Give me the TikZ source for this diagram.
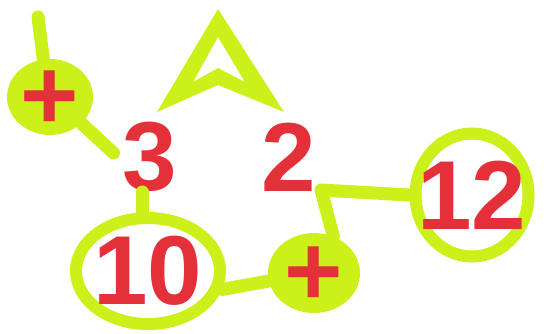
\documentclass[tikz,border=0pt]{standalone}
\usepackage{fontspec}
\setmainfont{Liberation Sans}
\usepackage{tikz}
\usetikzlibrary{shapes.geometric, positioning}
\definecolor{lime}{RGB}{204,240,26}
\definecolor{mark}{RGB}{228,48,56}

\begin{document}
\begin{tikzpicture}[x=1pt, y=-1pt,
    digit/.style={text=mark, font=\fontsize{98}{98}\selectfont\bfseries, inner sep=0pt},
    sign/.style={text=mark, font=\fontsize{100}{100}\selectfont\bfseries, inner sep=0pt},
    blob/.style={ellipse, fill=lime, inner sep=0pt},
    ring/.style={ellipse, draw=lime, line width=12pt, inner sep=0pt},
    wire/.style={draw=lime, line width=13pt, line cap=round, line join=round}
]
\useasboundingbox (0,0) rectangle (544,333);

\node[blob, minimum width=86pt, minimum height=76pt] (plusA) at (50,97) {};
\node[sign, yshift=-3pt] (plusAText) at (plusA) {+};
\node[digit] (three) at (150,157) {3};
\node[digit] (two) at (289,157) {2};
\node[ring, minimum width=144pt, minimum height=106pt] (ten) at (148,271) {};
\node[digit] (tenText) at (ten) {10};
\node[blob, minimum width=92pt, minimum height=80pt] (plusB) at (314,273) {};
\node[sign, yshift=-3pt] (plusBText) at (plusB) {+};
\node[ring, minimum width=113pt, minimum height=123pt] (twelve) at (472,195) {};
\node[digit] (twelveText) at (twelve) {12};

% caret above the 3 and the 2
\fill[lime, even odd rule] (218,9) -- (157,112) -- (218,85) -- (284,112) -- cycle
    (218,37) -- (193,82) -- (218,68) -- (245,82) -- cycle;

\coordinate (tip) at (38,17);
\coordinate (bend) at (321,190);
\draw[wire] (tip) -- (plusA.100);
\draw[wire] (plusA.-40) -- ([shift={(-9,-4)}]three.west);
\draw[wire] ([xshift=-8pt]three.south) -- ([xshift=-8pt]three.south |- ten.north);
\draw[wire] (ten.-14) -- (plusB.190);
\draw[wire] (plusB.62) -- (bend) -- (twelve.west);
\end{tikzpicture}
\end{document}
